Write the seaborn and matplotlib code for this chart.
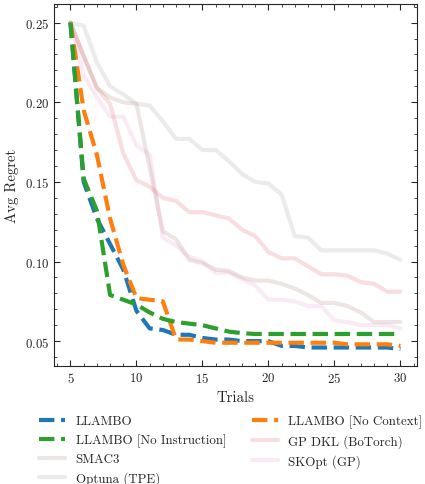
import numpy as np
import pandas as pd
import matplotlib
matplotlib.use('Agg')
import matplotlib.pyplot as plt
from matplotlib.ticker import AutoMinorLocator
import seaborn as sns

trials = list(range(5, 31))

llambo = [0.25, 0.150, 0.127, 0.111, 0.095, 0.069, 0.058, 0.057, 0.054, 0.054, 0.052, 0.051, 0.051,
          0.050, 0.050, 0.050, 0.047, 0.047, 0.046, 0.046, 0.046, 0.046, 0.046, 0.046, 0.046, 0.045]
no_context = [0.25, 0.195, 0.167, 0.127, 0.098, 0.077, 0.076, 0.075, 0.051, 0.051, 0.050, 0.049, 0.049,
              0.049, 0.049, 0.049, 0.049, 0.049, 0.049, 0.049, 0.049, 0.048, 0.048, 0.048, 0.048, 0.047]
no_instruction = [0.25, 0.152, 0.132, 0.079, 0.076, 0.073, 0.068, 0.064, 0.062, 0.061, 0.060, 0.058, 0.056,
                  0.055, 0.0545, 0.0545, 0.0545, 0.0545, 0.0545, 0.0545, 0.0545, 0.0545, 0.0545, 0.0545, 0.0545, 0.0545]
gp_dkl = [0.25, 0.229, 0.209, 0.199, 0.168, 0.151, 0.147, 0.140, 0.138, 0.131, 0.131, 0.129, 0.127,
          0.120, 0.116, 0.106, 0.102, 0.102, 0.097, 0.092, 0.092, 0.091, 0.087, 0.086, 0.081, 0.081]
skopt = [0.25, 0.217, 0.203, 0.191, 0.191, 0.173, 0.167, 0.115, 0.110, 0.103, 0.100, 0.093, 0.093,
         0.089, 0.085, 0.076, 0.076, 0.075, 0.072, 0.072, 0.063, 0.062, 0.060, 0.060, 0.060, 0.058]
smac3 = [0.25, 0.229, 0.209, 0.203, 0.200, 0.199, 0.159, 0.119, 0.114, 0.101, 0.099, 0.095, 0.094,
         0.090, 0.088, 0.088, 0.086, 0.083, 0.079, 0.074, 0.074, 0.072, 0.068, 0.062, 0.062, 0.062]
optuna = [0.25, 0.248, 0.225, 0.210, 0.205, 0.199, 0.198, 0.188, 0.177, 0.177, 0.170, 0.170, 0.163,
          0.155, 0.150, 0.149, 0.142, 0.116, 0.115, 0.107, 0.107, 0.107, 0.107, 0.107, 0.105, 0.101]

sns.set_style('ticks')
plt.rcParams['font.family'] = 'serif'
plt.rcParams['font.serif'] = ['cmr10', 'DejaVu Serif']
plt.rcParams['mathtext.fontset'] = 'cm'
plt.rcParams['axes.formatter.use_mathtext'] = True
plt.rcParams['font.size'] = 9.3
plt.rcParams['axes.labelsize'] = 10.7

fig, ax = plt.subplots(figsize=(4.25, 4.85), dpi=100)
fig.subplots_adjust(left=0.127, right=0.981, top=0.99, bottom=0.243)

# baselines (faint)
baselines = [('SMAC3', smac3, 'tab:brown'),
             ('Optuna (TPE)', optuna, 'tab:gray'),
             ('GP DKL (BoTorch)', gp_dkl, 'tab:red'),
             ('SKOpt (GP)', skopt, 'tab:pink')]
for name, vals, c in baselines:
    sns.lineplot(x=trials, y=vals, ax=ax, color=c, alpha=0.15, lw=3, label=name)

ours = [('LLAMBO', llambo, 'tab:blue'),
        ('LLAMBO [No Context]', no_context, 'tab:orange'),
        ('LLAMBO [No Instruction]', no_instruction, 'tab:green')]
for name, vals, c in ours:
    sns.lineplot(x=trials, y=vals, ax=ax, color=c, lw=3, ls='--', label=name)

ax.set_xlabel('Trials')
ax.set_ylabel('Avg Regret')
ax.set_xticks([5, 10, 15, 20, 25, 30])
ax.set_yticks([0.05, 0.10, 0.15, 0.20, 0.25])
ax.set_xlim(3.75, 31.25)
ax.set_ylim(0.0343, 0.2618)
ax.xaxis.set_minor_locator(AutoMinorLocator(5))
ax.yaxis.set_minor_locator(AutoMinorLocator(5))
ax.tick_params(which='both', direction='in', top=True, right=True)
ax.tick_params(which='major', length=4)
ax.tick_params(which='minor', length=2)

h, l = ax.get_legend_handles_labels()
lookup = dict(zip(l, h))
order = ['LLAMBO', 'LLAMBO [No Instruction]', 'SMAC3', 'Optuna (TPE)',
         'LLAMBO [No Context]', 'GP DKL (BoTorch)', 'SKOpt (GP)']
ax.legend([lookup[k] for k in order], order, ncol=2, frameon=False,
          loc='upper center', bbox_to_anchor=(0.487, -0.101), labelspacing=0.48,
          columnspacing=2.0)

fig.savefig('out.png', dpi=100)
